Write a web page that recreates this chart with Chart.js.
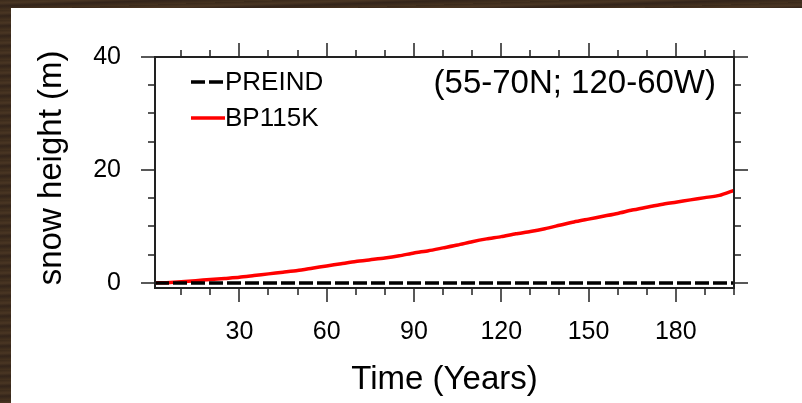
<!DOCTYPE html>
<html>
<head>
<meta charset="utf-8">
<script src="https://cdn.jsdelivr.net/npm/chart.js@4.4.1/dist/chart.umd.min.js"></script>
<style>
html, body { margin: 0; padding: 0; }
body { width: 802px; height: 403px; overflow: hidden; position: relative;
  background: repeating-linear-gradient(178deg, #3b2a1b 0px, #4a3623 3px, #33241a 6px, #45321f 10px); }
#panel { position: absolute; left: 11px; top: 8px; width: 791px; height: 395px; background: #fff; }
</style>
</head>
<body>
<div id="panel"><canvas id="snow-chart" width="791" height="395"></canvas></div>
<script>
// model years (sampled every 5 years) and snow height in m
const years = [1, 5, 10, 15, 20, 25, 30, 35, 40, 45, 50, 55, 60, 65, 70, 75, 80, 85, 90, 95, 100,
  105, 110, 115, 120, 125, 130, 135, 140, 145, 150, 155, 160, 165, 170, 175, 180, 185, 190, 195, 200];
const preind = [0, 0, 0, 0, 0, 0, 0, 0, 0, 0, 0, 0, 0, 0, 0, 0, 0, 0, 0, 0, 0,
  0, 0, 0, 0, 0, 0, 0, 0, 0, 0, 0, 0, 0, 0, 0, 0, 0, 0, 0, 0];
const bp115k = [0, 0.05, 0.2, 0.4, 0.6, 0.8, 1.0, 1.3, 1.6, 1.9, 2.2, 2.6, 3.0, 3.4, 3.8, 4.1, 4.4, 4.8, 5.3, 5.7, 6.2,
  6.7, 7.3, 7.8, 8.2, 8.7, 9.1, 9.6, 10.2, 10.8, 11.3, 11.8, 12.3, 12.9, 13.4, 13.9, 14.3, 14.7, 15.1, 15.5, 16.4];

const xMajor = [30, 60, 90, 120, 150, 180];
const xMinor = [10, 20, 40, 50, 70, 80, 100, 110, 130, 140, 160, 170, 190, 200];
const yMajor = [0, 20, 40];
const yMinor = [5, 10, 15, 25, 30, 35];

const regionText = '(55-70N; 120-60W)';
const fontFamily = '"Liberation Sans", Arial, sans-serif';

// frame, outward ticks, legend and region label
const framePlugin = {
  id: 'frame',
  afterDraw(chart) {
    const {ctx, chartArea: a, scales: {x, y}} = chart;
    ctx.save();
    ctx.strokeStyle = '#222';
    ctx.lineWidth = 2;
    ctx.strokeRect(a.left, a.top, a.right - a.left, a.bottom - a.top);

    ctx.lineWidth = 1.5;
    ctx.beginPath();
    const xt = (vals, len) => vals.forEach(v => {
      const px = Math.round(x.getPixelForValue(v));
      ctx.moveTo(px, a.bottom); ctx.lineTo(px, a.bottom + len);
      ctx.moveTo(px, a.top); ctx.lineTo(px, a.top - len);
    });
    const yt = (vals, len) => vals.forEach(v => {
      const py = Math.round(y.getPixelForValue(v));
      ctx.moveTo(a.left, py); ctx.lineTo(a.left - len, py);
      ctx.moveTo(a.right, py); ctx.lineTo(a.right + len, py);
    });
    xt(xMajor, 14); xt(xMinor, 7);
    yt(yMajor, 14); yt(yMinor, 7);
    ctx.stroke();

    // legend
    const ds = chart.data.datasets;
    const rows = [74, 110];
    ds.forEach((d, i) => {
      ctx.beginPath();
      ctx.strokeStyle = d.borderColor;
      ctx.lineWidth = d.borderWidth;
      ctx.setLineDash(d.borderDash || []);
      ctx.moveTo(180, rows[i]);
      ctx.lineTo(214, rows[i]);
      ctx.stroke();
      ctx.setLineDash([]);
      ctx.fillStyle = '#000';
      ctx.font = '26px ' + fontFamily;
      ctx.textBaseline = 'middle';
      ctx.textAlign = 'left';
      ctx.fillText(d.label, 214, rows[i] + 1);
    });

    ctx.font = '33px ' + fontFamily;
    ctx.textAlign = 'right';
    ctx.fillText(regionText, 705, 76);
    ctx.restore();
  }
};

const config = {
  type: 'line',
  data: {
    labels: years,
    datasets: [{
      label: 'PREIND',
      data: preind,
      borderColor: '#000',
      borderWidth: 3.5,
      borderDash: [14, 4],
      pointRadius: 0,
      tension: 0
    }, {
      label: 'BP115K',
      data: bp115k,
      borderColor: '#ff0000',
      borderWidth: 3.5,
      pointRadius: 0,
      tension: 0.2
    }]
  },
  options: {
    responsive: false,
    animation: false,
    layout: {
      padding: {top: 47, right: 68, left: 0, bottom: 0}
    },
    plugins: {
      legend: {display: false},
      tooltip: {enabled: false}
    },
    scales: {
      x: {
        type: 'linear',
        min: 1,
        max: 200,
        afterBuildTicks: s => { s.ticks = xMajor.map(v => ({value: v})); },
        afterFit: s => { s.height = 115; },
        grid: {display: false, drawTicks: false},
        border: {display: false},
        ticks: {color: '#000', font: {family: fontFamily, size: 25}, padding: 29, maxRotation: 0, autoSkip: false},
        title: {display: true, text: 'Time (Years)', color: '#000',
          font: {family: fontFamily, size: 33}, padding: {top: 0, bottom: 3}}
      },
      y: {
        min: -0.9,
        max: 40,
        afterBuildTicks: s => { s.ticks = yMajor.map(v => ({value: v})); },
        afterFit: s => { s.width = 144; },
        grid: {display: false, drawTicks: false},
        border: {display: false},
        ticks: {color: '#000', font: {family: fontFamily, size: 25}, padding: 34},
        title: {display: true, text: '\u00a0snow height (m)', color: '#000',
          font: {family: fontFamily, size: 33}, padding: {top: 21, bottom: 0}}
      }
    }
  },
  plugins: [framePlugin]
};

const snowChart = new Chart(document.getElementById('snow-chart'), config);
</script>
</body>
</html>
